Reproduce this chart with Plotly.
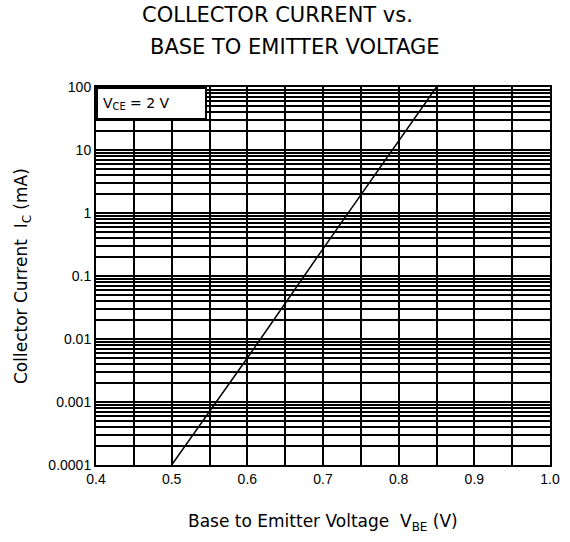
import plotly.graph_objects as go

# data
vbe = [0.5, 0.6, 0.7, 0.8, 0.85]
ic = [0.0001, 0.005, 0.27, 14, 100]

x_ticks = [0.4, 0.5, 0.6, 0.7, 0.8, 0.9, 1.0]
x_labels = ["0.4", "0.5", "0.6", "0.7", "0.8", "0.9", "1.0"]
y_ticks = [0.0001, 0.001, 0.01, 0.1, 1, 10, 100]
y_labels = ["0.0001", "0.001", "0.01", "0.1", "1", "10", "100"]

font = "Arial, Liberation Sans, sans-serif"
wide = "DejaVu Sans, sans-serif"

fig = go.Figure()
fig.add_trace(go.Scatter(x=vbe, y=ic, mode="lines",
                         line=dict(color="black", width=1.5), showlegend=False))

fig.update_layout(
    width=570, height=542,
    margin=dict(l=96, r=20, t=87, b=77),
    paper_bgcolor="white", plot_bgcolor="white",
    font=dict(family=font, color="black", size=14),
    xaxis=dict(range=[0.4, 1.0], tickvals=x_ticks, ticktext=x_labels,
               showgrid=True, gridcolor="black", gridwidth=2, zeroline=False,
               showline=True, linecolor="black", linewidth=2, mirror=True,
               ticks="", tickfont=dict(size=14), automargin=False,
               minor=dict(dtick=0.05, tick0=0.4, showgrid=True,
                          gridcolor="black", gridwidth=2, ticks="")),
    yaxis=dict(type="log", range=[-4, 2], tickvals=y_ticks, ticktext=y_labels,
               showgrid=True, gridcolor="black", gridwidth=2, zeroline=False,
               showline=True, linecolor="black", linewidth=2, mirror=True,
               ticks="", tickfont=dict(size=14), automargin=False,
               minor=dict(dtick="D1", showgrid=True, gridcolor="black",
                          gridwidth=2, ticks="")),
)

fig.add_annotation(xref="paper", yref="paper", x=0, y=1, xanchor="left", yanchor="top",
                   text="V<sub>CE</sub> = 2 V", showarrow=False, align="left",
                   bgcolor="white", bordercolor="black", borderwidth=2,
                   borderpad=5, font=dict(size=14, family=wide), width=97, height=19)

fig.add_annotation(xref="paper", yref="paper", x=0.5, y=-0.153, xanchor="center", yanchor="middle",
                   text="Base to Emitter Voltage  V<sub>BE</sub> (V)", showarrow=False,
                   font=dict(size=17, family=wide))
fig.add_annotation(xref="paper", yref="paper", x=-0.163, y=0.5, xanchor="center", yanchor="middle",
                   text="Collector Current  I<sub>C</sub> (mA)", showarrow=False, textangle=-90,
                   font=dict(size=17, family=wide))

fig.add_annotation(xref="paper", yref="paper", x=0.399, y=1.19, xanchor="center", yanchor="middle",
                   text="COLLECTOR CURRENT vs.", showarrow=False, font=dict(size=21, family=wide))
fig.add_annotation(xref="paper", yref="paper", x=0.438, y=1.106, xanchor="center", yanchor="middle",
                   text="BASE TO EMITTER VOLTAGE", showarrow=False, font=dict(size=21, family=wide))

fig.write_html("out.html", config={"displayModeBar": False},
               post_script="document.body.style.margin='0';")
